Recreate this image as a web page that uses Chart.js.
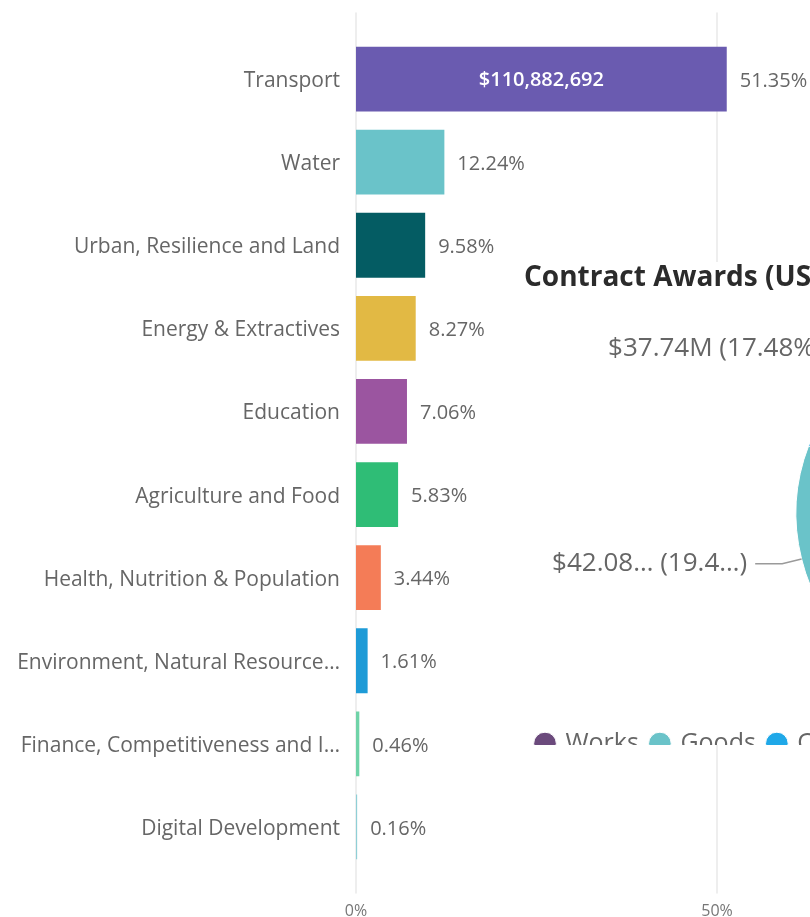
<!DOCTYPE html>
<html>
<head>
<meta charset="utf-8">
<script src="https://cdn.jsdelivr.net/npm/chart.js@4.4.1/dist/chart.umd.min.js"></script>
<style>
  html, body { margin: 0; padding: 0; background: #fff; }
  body { width: 810px; height: 917px; overflow: hidden; position: relative; }
  #bars { position: absolute; left: 0; top: 0; }
  #panel { position: absolute; left: 512px; top: 262px; width: 298px; height: 483px; overflow: hidden; background: #fff; }
  #pie { position: absolute; left: 12px; top: -1px; }
</style>
</head>
<body>
<canvas id="bars" width="1100" height="917"></canvas>
<div id="panel"><canvas id="pie" width="920" height="505"></canvas></div>
<script>
// sector shares (% of total)
const sectors = ['Transport', 'Water', 'Urban, Resilience and Land', 'Energy & Extractives', 'Education',
  'Agriculture and Food', 'Health, Nutrition & Population', 'Environment, Natural Resources & Blue Economy',
  'Finance, Competitiveness and Innovation', 'Digital Development'];
const sectorShares = [51.35, 12.24, 9.58, 8.27, 7.06, 5.83, 3.44, 1.61, 0.46, 0.16];
const sectorColors = ['#6a5bb0', '#6ac3c9', '#045c63', '#e2b944', '#9b55a0', '#2fbd76', '#f47c57', '#1e9bd7', '#6fd3a8', '#8fcfd6'];
const insideLabels = ['$110,882,692', '', '', '', '', '', '', '', '', ''];
const axisTicks = [0, 50];

// contract awards by type (US$ millions)
const awardTypes = ['Works', 'Goods', 'Consultant Services'];
const awardValues = [136.11, 42.08, 37.74];
const awardLabels = ['$136.11M (63.03%)', '$42.08\u2026 (19.4\u2026)', '$37.74M (17.48%)'];
const awardColors = ['#6b4a7c', '#6ac3c9', '#1fa8e8'];

const FONT = "'Open Sans'";
Chart.defaults.font.family = FONT;
Chart.defaults.animation = false;

const measureCtx = document.createElement('canvas').getContext('2d');
measureCtx.font = '21px ' + FONT;
function fitLabel(s, max) {
  if (measureCtx.measureText(s).width <= max) return s;
  let t = s;
  while (t.length && measureCtx.measureText(t + '\u2026').width > max) t = t.slice(0, -1);
  return t.trimEnd() + '\u2026';
}

const gridPlugin = {
  id: 'grid',
  beforeDatasetsDraw(chart) {
    const { ctx, chartArea } = chart;
    const x = chart.scales.x;
    ctx.save();
    ctx.strokeStyle = '#eeeeee';
    ctx.lineWidth = 2;
    for (const v of axisTicks) {
      const px = Math.round(x.getPixelForValue(v));
      ctx.beginPath();
      ctx.moveTo(px, chartArea.top - 25);
      ctx.lineTo(px, chartArea.bottom + 25);
      ctx.stroke();
    }
    ctx.restore();
  }
};

const barLabels = {
  id: 'barLabels',
  afterDatasetsDraw(chart) {
    const { ctx } = chart;
    const meta = chart.getDatasetMeta(0);
    ctx.save();
    ctx.textBaseline = 'middle';
    meta.data.forEach((bar, i) => {
      ctx.font = '20px ' + FONT;
      ctx.fillStyle = '#666';
      ctx.textAlign = 'left';
      ctx.fillText(sectorShares[i].toFixed(2) + '%', bar.x + 13, bar.y + 2);
      if (insideLabels[i]) {
        ctx.font = '600 20px ' + FONT;
        ctx.fillStyle = '#fff';
        ctx.textAlign = 'center';
        ctx.fillText(insideLabels[i], (bar.base + bar.x) / 2, bar.y + 1);
      }
    });
    ctx.restore();
  }
};

new Chart(document.getElementById('bars'), {
  type: 'bar',
  data: {
    labels: sectors,
    datasets: [{ data: sectorShares, backgroundColor: sectorColors, categoryPercentage: 1, barPercentage: 0.78 }]
  },
  options: {
    indexAxis: 'y',
    responsive: false,
    layout: { padding: { top: 37.5, right: 22, bottom: 0, left: 0 } },
    plugins: { legend: { display: false }, tooltip: { enabled: false } },
    scales: {
      x: {
        min: 0, max: 100,
        grid: { display: false, drawTicks: false },
        border: { display: false },
        ticks: { padding: 33.5, color: '#777', font: { size: 16 }, callback: v => v + '%' },
        afterBuildTicks: s => { s.ticks = axisTicks.map(v => ({ value: v })); },
        afterFit: s => { s.height = 48.5; }
      },
      y: {
        grid: { display: false, drawTicks: false },
        border: { display: false },
        ticks: { padding: 16, labelOffset: 2, color: '#666', font: { size: 21 },
          callback: function (v) { return fitLabel(this.getLabelForValue(v), 326); } },
        afterFit: s => { s.width = 356; }
      }
    }
  },
  plugins: [gridPlugin, barLabels]
});

const pieLabels = {
  id: 'pieLabels',
  afterDatasetsDraw(chart) {
    const { ctx } = chart;
    const meta = chart.getDatasetMeta(0);
    ctx.save();
    meta.data.forEach((arc, i) => {
      const { x, y, startAngle, endAngle, outerRadius } = arc.getProps(['x', 'y', 'startAngle', 'endAngle', 'outerRadius'], true);
      const mid = (startAngle + endAngle) / 2;
      const c = Math.cos(mid), s = Math.sin(mid);
      const dir = c < 0 ? -1 : 1;
      const x1 = x + c * (outerRadius + 20), y1 = y + s * (outerRadius + 20);
      ctx.strokeStyle = '#9a9a9a';
      ctx.lineWidth = 1.5;
      ctx.beginPath();
      ctx.moveTo(x + c * outerRadius, y + s * outerRadius);
      ctx.lineTo(x1, y1);
      ctx.lineTo(x1 + dir * 27, y1);
      ctx.stroke();
      ctx.font = '26px ' + FONT;
      ctx.fillStyle = '#666';
      ctx.textBaseline = 'middle';
      ctx.textAlign = dir < 0 ? 'right' : 'left';
      ctx.fillText(awardLabels[i], x1 + dir * 35, y1);
    });
    ctx.restore();
  }
};

new Chart(document.getElementById('pie'), {
  type: 'pie',
  data: {
    labels: awardTypes,
    datasets: [{ data: awardValues, backgroundColor: awardColors, borderColor: '#fff', borderWidth: 1, radius: 188 }]
  },
  options: {
    responsive: false,
    rotation: -6,
    plugins: {
      tooltip: { enabled: false },
      title: {
        display: true, text: 'Contract Awards (US$)', align: 'start', color: '#2b2b2b',
        font: { size: 28, weight: 'bold' }, padding: { top: 0, bottom: 14.4 }
      },
      legend: {
        position: 'bottom', align: 'start',
        labels: { usePointStyle: true, pointStyle: 'circle', boxWidth: 16, boxHeight: 16, padding: 13, color: '#666', font: { size: 25 } }
      }
    }
  },
  plugins: [pieLabels]
});
</script>
</body>
</html>
